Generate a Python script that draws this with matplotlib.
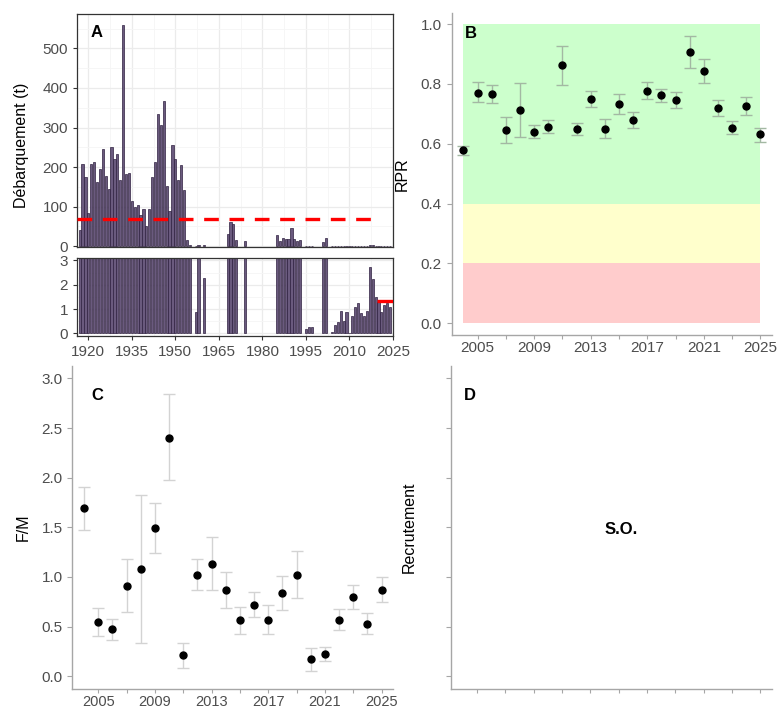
import numpy as np
import matplotlib.pyplot as plt
from matplotlib.ticker import MultipleLocator

plt.rcParams['font.family'] = ['Liberation Sans', 'DejaVu Sans']

# ---- panel A : landings (t) ----
land_years = (list(range(1917, 1956)) + [1957, 1958, 1960, 1968, 1969, 1970, 1971, 1974]
              + list(range(1985, 1994)) + [1995, 1996, 1997, 2001, 2002]
              + list(range(2004, 2025)))
land_vals = [42, 207, 175, 85, 207, 212, 163, 196, 245, 178,
             144, 251, 221, 232, 168, 559, 182, 186, 115, 98,
             105, 78, 93, 50, 93, 175, 214, 333, 307, 366,
             152, 88, 257, 221, 167, 206, 143, 15, 4,
             0.88, 4, 2.28, 30, 60, 57, 15, 14,
             28, 13, 20, 18, 17, 47, 18, 14, 15,
             0.18, 0.25, 0.25, 11, 22,
             0.05, 0.35, 0.48, 0.9, 0.5, 0.88, 0.03, 0.73, 1.1, 1.25,
             0.83, 0.7, 0.9, 2.75, 2.25, 1.5, 1.28, 0.88, 1.17, 1.25, 1.1]
ref_old = 68      # reference line up to 2019
ref_new = 1.33    # reference line from 2020

# ---- panel B : RPR ----
yrs = list(range(2004, 2026))
rpr = [0.579, 0.771, 0.767, 0.646, 0.713, 0.639, 0.655, 0.862, 0.650, 0.749, 0.650,
       0.733, 0.679, 0.777, 0.762, 0.745, 0.906, 0.842, 0.719, 0.654, 0.727, 0.631]
rpr_lo = [0.562, 0.741, 0.737, 0.604, 0.624, 0.618, 0.635, 0.798, 0.629, 0.724, 0.620,
          0.699, 0.654, 0.748, 0.738, 0.720, 0.853, 0.802, 0.693, 0.633, 0.696, 0.607]
rpr_hi = [0.594, 0.805, 0.796, 0.689, 0.802, 0.663, 0.679, 0.928, 0.670, 0.778, 0.683,
          0.766, 0.705, 0.808, 0.784, 0.773, 0.960, 0.883, 0.747, 0.677, 0.755, 0.654]

# ---- panel C : F/M ----
fm = [1.694, 0.542, 0.472, 0.914, 1.081, 1.493, 2.404, 0.211, 1.021, 1.132, 0.874,
      0.562, 0.720, 0.562, 0.840, 1.021, 0.171, 0.224, 0.566, 0.800, 0.529, 0.874]
fm_lo = [1.476, 0.402, 0.362, 0.646, 0.338, 1.239, 1.975, 0.084, 0.864, 0.864, 0.686,
         0.425, 0.593, 0.425, 0.663, 0.787, 0.050, 0.151, 0.462, 0.680, 0.429, 0.753]
fm_hi = [1.910, 0.683, 0.572, 1.180, 1.828, 1.744, 2.839, 0.338, 1.178, 1.399, 1.055,
         0.696, 0.844, 0.713, 1.014, 1.265, 0.288, 0.291, 0.673, 0.917, 0.636, 0.998]

W, H = 778, 710
fig = plt.figure(figsize=(W / 100, H / 100), dpi=100)


def px_axes(l, t, r, b):
    return fig.add_axes([l / W, 1 - b / H, (r - l) / W, (b - t) / H])


tick_col = '#4d4d4d'
bar_face = '#6a5a7e'
bar_edge = '#2f2040'
dash = (0, (4.4, 3.2))

# A top
axA = px_axes(77, 14, 393, 247)
axA2 = px_axes(77, 258, 393, 336)
for ax in (axA, axA2):
    ax.bar(land_years, land_vals, width=0.75, color=bar_face, edgecolor=bar_edge,
           linewidth=0.5, zorder=2)
    ax.set_xlim(1916.1, 2025.0)
    ax.set_xticks(range(1920, 2026, 15))
    ax.xaxis.set_minor_locator(MultipleLocator(7.5))
    ax.grid(True, which='major', color='#ebebeb', lw=0.9, zorder=0)
    ax.grid(True, which='minor', color='#f5f5f5', lw=0.6, zorder=0)
    ax.tick_params(which='minor', length=0)
    ax.tick_params(colors='#333333', labelcolor=tick_col, labelsize=11, length=3)
    for s in ax.spines.values():
        s.set_color('#333333')
        s.set_linewidth(0.9)
    ax.set_axisbelow(True)

axA.set_ylim(-2, 587)
axA.set_yticks(range(0, 501, 100))
axA.yaxis.set_minor_locator(MultipleLocator(50))
axA.tick_params(axis='x', labelbottom=False, length=0)
axA.plot([1916, 2019.5], [ref_old, ref_old], color='red', lw=2.4, ls=dash,
         solid_capstyle='butt', dash_capstyle='butt', zorder=3)
axA.text(1923, 540, 'A', fontsize=12, fontweight='bold', va='center', ha='center')

axA2.set_ylim(-0.11, 3.1)
axA2.set_yticks([0, 1, 2, 3])
axA2.yaxis.set_minor_locator(MultipleLocator(0.5))
axA2.plot([2019.6, 2025], [ref_new, ref_new], color='red', lw=2.4,
          solid_capstyle='butt', zorder=3)
fig.text(22 / W, 1 - 145 / H, 'Débarquement (t)', rotation=90, fontsize=11.5,
         ha='center', va='center')


def style_simple(ax):
    for s in ('top', 'right'):
        ax.spines[s].set_visible(False)
    for s in ('left', 'bottom'):
        ax.spines[s].set_color('#a6a6a6')
        ax.spines[s].set_linewidth(1.0)
    ax.tick_params(colors='#a6a6a6', labelcolor=tick_col, labelsize=11, length=3.5)
    ax.tick_params(axis='x', pad=1.5, length=3)
    ax.set_xlim(2003.17, 2025.8)
    ax.set_xticks(range(2005, 2026, 2))


year_labels = [str(y) if (y - 2005) % 4 == 0 else '' for y in range(2005, 2026, 2)]

# B
axB = px_axes(451.7, 12.7, 771.7, 335)
style_simple(axB)
axB.set_xticklabels(year_labels)
axB.set_ylim(-0.039, 1.038)
axB.set_yticks(np.arange(0, 1.01, 0.2))
axB.set_yticklabels([f'{v:.1f}' for v in np.arange(0, 1.01, 0.2)])
axB.fill_between([2004, 2025], 0.4, 1.0, color='#ccffcc', lw=0, zorder=0)
axB.fill_between([2004, 2025], 0.2, 0.4, color='#ffffcc', lw=0, zorder=0)
axB.fill_between([2004, 2025], 0.0, 0.2, color='#ffcccc', lw=0, zorder=0)
rpr_a = np.array(rpr)
axB.errorbar(yrs, rpr, yerr=[rpr_a - np.array(rpr_lo), np.array(rpr_hi) - rpr_a],
             fmt='none', ecolor='#a3b8a3', elinewidth=1, capsize=4, capthick=1, zorder=2)
axB.plot(yrs, rpr, 'o', color='black', ms=5, zorder=3)
axB.set_ylabel('RPR', fontsize=11.5, labelpad=8)
axB.text(2004.5, 0.97, 'B', fontsize=12, fontweight='bold', va='center', ha='center')

# C
axC = px_axes(72.3, 366, 393, 688.7)
style_simple(axC)
axC.set_xticklabels(year_labels, fontsize=10.5)
axC.set_ylim(-0.125, 3.125)
axC.set_yticks(np.arange(0, 3.01, 0.5))
axC.set_yticklabels([f'{v:.1f}' for v in np.arange(0, 3.01, 0.5)])
fm_a = np.array(fm)
axC.errorbar(yrs, fm, yerr=[fm_a - np.array(fm_lo), np.array(fm_hi) - fm_a],
             fmt='none', ecolor='#d3d3d3', elinewidth=1, capsize=4, capthick=1, zorder=2)
axC.plot(yrs, fm, 'o', color='black', ms=5, zorder=3)
axC.set_ylabel('F/M', fontsize=11.5, labelpad=8)
axC.text(2004.9, 2.83, 'C', fontsize=12, fontweight='bold', va='center', ha='center')

# D
axD = px_axes(451, 366, 771.7, 688.7)
style_simple(axD)
axD.set_xticklabels([])
axD.set_ylim(-0.125, 3.125)
axD.set_yticks(np.arange(0, 3.01, 0.5))
axD.set_yticklabels([])
axD.set_ylabel('Recrutement', fontsize=11.5, labelpad=18)
axD.text(2004.5, 2.83, 'D', fontsize=12, fontweight='bold', va='center', ha='center')
axD.text(2015.2, 1.48, 'S.O.', fontsize=12, fontweight='bold', va='center', ha='center')

fig.savefig('out.png', dpi=100)
